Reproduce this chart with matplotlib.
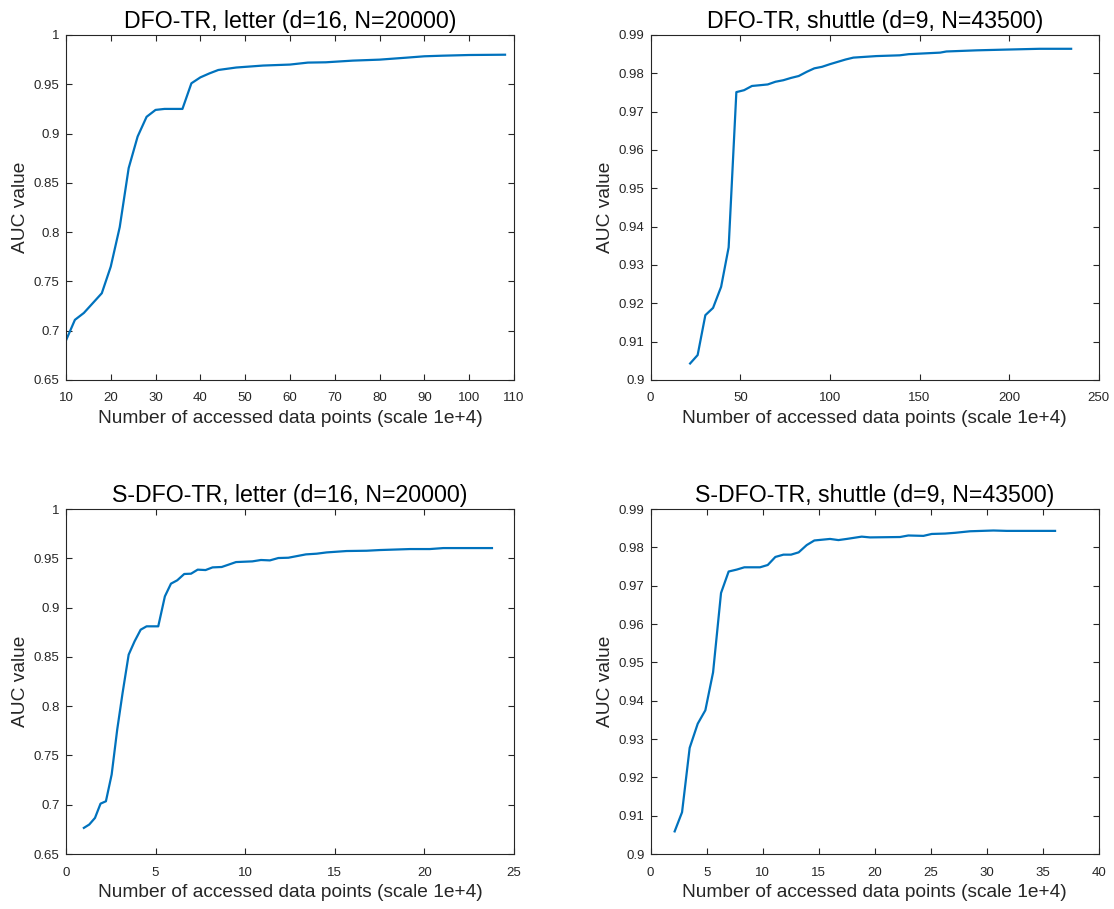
import matplotlib
matplotlib.use("Agg")
import matplotlib.pyplot as plt

# -------------------------
# DADOS
# -------------------------
letter_x = [10, 12, 14, 16, 18, 20, 22, 24, 26, 28, 30, 32, 34, 36, 38, 40, 42, 44,
            48, 54, 60, 64, 68, 74, 80, 86, 90, 94, 100, 108]
letter_y = [0.690, 0.711, 0.718, 0.728, 0.738, 0.765, 0.805, 0.865, 0.897, 0.917,
            0.924, 0.925, 0.925, 0.925, 0.951, 0.957, 0.961, 0.9645, 0.967, 0.969,
            0.970, 0.972, 0.9723, 0.974, 0.975, 0.977, 0.9784, 0.979, 0.9797, 0.980]

shuttle_x = [22, 26.2, 30.5, 34.8, 39.3, 43.5, 47.8, 52.1, 56.5, 61.0, 65.3, 69.6,
             74.0, 78.3, 82.6, 87.1, 91.3, 95.6, 100.1, 104.4, 108.7, 113.1, 126,
             139, 144, 161.5, 165, 182, 199, 217, 234.6]
shuttle_y = [0.9043, 0.9065, 0.9169, 0.9188, 0.9243, 0.9346, 0.9751, 0.9756, 0.9767,
             0.9769, 0.9771, 0.9778, 0.9782, 0.9788, 0.9793, 0.9804, 0.9813, 0.9817,
             0.9824, 0.9830, 0.9836, 0.9841, 0.9845, 0.9847, 0.9850, 0.9854, 0.9857,
             0.9860, 0.9862, 0.9864, 0.9864]

s_letter_x = [1.0, 1.3, 1.62, 1.93, 2.23, 2.55, 2.86, 3.16, 3.5, 3.83, 4.17, 4.5,
              4.84, 5.15, 5.52, 5.86, 6.21, 6.6, 6.98, 7.35, 7.79, 8.18, 8.69, 9.06,
              9.49, 10.4, 10.88, 11.38, 11.85, 12.41, 13.39, 13.99, 14.55, 15.66,
              16.78, 17.52, 19.2, 20.3, 21.06, 23.77]
s_letter_y = [0.6765, 0.6799, 0.6866, 0.7011, 0.7035, 0.7306, 0.7762, 0.8134, 0.8523,
              0.8658, 0.8776, 0.881, 0.881, 0.881, 0.9114, 0.9243, 0.9277, 0.9341,
              0.9344, 0.9385, 0.9381, 0.9408, 0.9412, 0.9435, 0.9462, 0.9469, 0.9483,
              0.9479, 0.9503, 0.9506, 0.954, 0.9547, 0.956, 0.9574, 0.9577, 0.9584,
              0.9594, 0.9594, 0.9604, 0.9604]

s_shuttle_x = [2.14, 2.8, 3.48, 4.2, 4.88, 5.57, 6.28, 6.96, 7.68, 8.36, 9.05, 9.76,
               10.45, 11.13, 11.85, 12.53, 13.21, 13.93, 14.61, 16.01, 16.76, 17.5,
               18.84, 19.58, 22.26, 23.0, 24.35, 25.09, 26.28, 27.17, 28.51, 30.6,
               31.79, 36.1]
s_shuttle_y = [0.9059, 0.9109, 0.9277, 0.934, 0.9375, 0.9474, 0.9681, 0.9737, 0.9742,
               0.9748, 0.9748, 0.9748, 0.9754, 0.9775, 0.9781, 0.9781, 0.9787, 0.9806,
               0.9818, 0.9822, 0.9819, 0.9822, 0.9828, 0.9826, 0.9827, 0.9831, 0.983,
               0.9835, 0.9836, 0.9838, 0.9842, 0.9844, 0.9843, 0.9843]

titulos = ["DFO-TR, letter (d=16, N=20000)", "DFO-TR, shuttle (d=9, N=43500)",
           "S-DFO-TR, letter (d=16, N=20000)", "S-DFO-TR, shuttle (d=9, N=43500)"]

# -------------------------
# ESTILO (tipo MATLAB)
# -------------------------
plt.rcParams['font.family'] = ['Liberation Sans', 'DejaVu Sans']
cor_linha = "#0072BD"
cor_eixo = "#262626"

fig = plt.figure(figsize=(11.14, 9.09), dpi=100)

posicoes = [
    [0.0592, 0.5820, 0.4022, 0.3795],
    [0.5841, 0.5820, 0.4022, 0.3795],
    [0.0592, 0.0605, 0.4022, 0.3795],
    [0.5841, 0.0605, 0.4022, 0.3795],
]

dados = [(letter_x, letter_y), (shuttle_x, shuttle_y),
         (s_letter_x, s_letter_y), (s_shuttle_x, s_shuttle_y)]

limites = [
    ((10, 110), range(10, 111, 10), (0.65, 1.0), [0.65, 0.7, 0.75, 0.8, 0.85, 0.9, 0.95, 1]),
    ((0, 250), range(0, 251, 50), (0.90, 0.99), [0.9 + 0.01 * i for i in range(10)]),
    ((0, 25), range(0, 26, 5), (0.65, 1.0), [0.65, 0.7, 0.75, 0.8, 0.85, 0.9, 0.95, 1]),
    ((0, 40), range(0, 41, 5), (0.90, 0.99), [0.9 + 0.01 * i for i in range(10)]),
]


def formatar(v):
    s = ("%.2f" % v).rstrip("0").rstrip(".")
    return s


for i in range(4):
    ax = fig.add_axes(posicoes[i])
    x, y = dados[i]
    ax.plot(x, y, color=cor_linha, linewidth=1.6)

    (xl, xt, yl, yt) = limites[i]
    ax.set_xlim(xl)
    ax.set_ylim(yl)
    ax.set_xticks(list(xt))
    ax.set_yticks(yt)
    ax.set_xticklabels([str(v) for v in xt])
    ax.set_yticklabels([formatar(v) for v in yt])

    ax.tick_params(direction="in", top=True, right=True, length=4.5, width=0.8,
                   labelsize=9.5, colors=cor_eixo)
    ax.tick_params(axis="x", pad=9)
    ax.tick_params(axis="y", pad=4.5)
    for lado in ax.spines.values():
        lado.set_color(cor_eixo)
        lado.set_linewidth(0.8)

    ax.set_title(titulos[i], fontsize=16.7, color="black", pad=5)
    ax.set_xlabel("Number of accessed data points (scale 1e+4)", fontsize=13.8,
                  color=cor_eixo, labelpad=4)
    ax.set_ylabel("AUC value", fontsize=13.8, color=cor_eixo, labelpad=3.5)

fig.savefig("out.png", dpi=100)
